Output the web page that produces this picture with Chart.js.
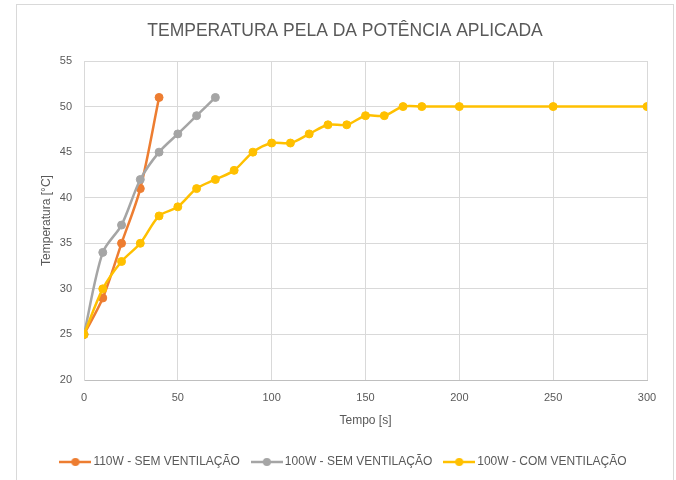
<!DOCTYPE html>
<html>
<head>
<meta charset="utf-8">
<script src="https://cdn.jsdelivr.net/npm/chart.js@4"></script>
<style>
  html, body { margin: 0; padding: 0; background: #ffffff; }
  #frame { position: absolute; left: 16px; top: 4px; width: 656px; height: 490px; border: 1px solid #d9d9d9; }
  #wrap { position: absolute; left: 0; top: 0; width: 676px; height: 480px; }
</style>
</head>
<body>
<div id="frame"></div>
<div id="wrap"><canvas id="chart" width="676" height="480"></canvas></div>
<script>
// values
const time110 = [0, 10, 20, 30, 40];
const temp110 = [25, 29, 35, 41, 51];

const time100 = [0, 10, 20, 30, 40, 50, 60, 70];
const temp100 = [25, 34, 37, 42, 45, 47, 49, 51];

const time100vent = [0, 10, 20, 30, 40, 50, 60, 70, 80, 90, 100, 110, 120, 130, 140, 150, 160, 170, 180, 200, 250, 300];
const temp100vent = [25, 30, 33, 35, 38, 39, 41, 42, 43, 45, 46, 46, 47, 48, 48, 49, 49, 50, 50, 50, 50, 50];

const seriesLabels = ['110W - SEM VENTILAÇÃO', '100W - SEM VENTILAÇÃO', '100W - COM VENTILAÇÃO'];
const seriesColours = ['#ED7D31', '#A5A5A5', '#FFC000'];

const xMin = 0, xMax = 300, xStep = 50;
const yMin = 20, yMax = 55, yStep = 5;

const textColour = '#595959';
const gridColour = '#d9d9d9';
const fontFamily = '"Liberation Sans", Arial, sans-serif';

function toPoints(xs, ys) {
  return xs.map((x, i) => ({ x: x, y: ys[i] }));
}

// legend marker: short line with a dot in the middle, like the spreadsheet legend
function legendMarker(colour) {
  const c = document.createElement('canvas');
  c.width = 32;
  c.height = 10;
  const g = c.getContext('2d');
  g.strokeStyle = colour;
  g.lineWidth = 2.5;
  g.beginPath();
  g.moveTo(0, 5);
  g.lineTo(32, 5);
  g.stroke();
  g.fillStyle = colour;
  g.beginPath();
  g.arc(16, 5, 4, 0, Math.PI * 2);
  g.fill();
  return c;
}

const allData = [toPoints(time110, temp110), toPoints(time100, temp100), toPoints(time100vent, temp100vent)];

// later series are drawn on top (order: lower = on top)
const drawOrder = [3, 2, 1];

const datasets = allData.map((pts, i) => ({
  label: seriesLabels[i],
  data: pts,
  order: drawOrder[i],
  borderColor: seriesColours[i],
  backgroundColor: seriesColours[i],
  borderWidth: 2.5,
  pointRadius: 4,
  pointBorderWidth: 1,
  pointHoverRadius: 5,
  tension: 0.3
}));

new Chart(document.getElementById('chart'), {
  type: 'line',
  data: { datasets: datasets },
  options: {
    responsive: false,
    animation: false,
    layout: { padding: { left: 43, right: 29, top: 0, bottom: 2 } },
    plugins: {
      title: {
        display: true,
        text: 'TEMPERATURA PELA DA POTÊNCIA APLICADA',
        color: textColour,
        font: { family: fontFamily, size: 17.5, weight: 'normal' },
        padding: { top: 21, bottom: 19 }
      },
      legend: {
        position: 'bottom',
        labels: {
          color: textColour,
          font: { family: fontFamily, size: 12 },
          usePointStyle: true,
          pointStyleWidth: 24, // marker image is 32 wide, centred on this box
          padding: 15,
          generateLabels: function(chart) {
            const items = Chart.defaults.plugins.legend.labels.generateLabels(chart);
            items.sort((a, b) => a.datasetIndex - b.datasetIndex);
            items.forEach(it => { it.pointStyle = legendMarker(seriesColours[it.datasetIndex]); });
            return items;
          }
        }
      },
      tooltip: { enabled: false }
    },
    scales: {
      x: {
        type: 'linear',
        min: xMin,
        max: xMax,
        ticks: { stepSize: xStep, color: textColour, font: { family: fontFamily, size: 11 }, padding: 11 },
        grid: { color: gridColour, drawTicks: false },
        border: { color: '#bfbfbf' },
        title: { display: true, text: 'Tempo [s]', color: textColour, font: { family: fontFamily, size: 12 }, padding: { top: 0, bottom: 13 } },
        afterFit: function(scale) { scale.height = 61; }
      },
      y: {
        min: yMin,
        max: yMax,
        ticks: { stepSize: yStep, color: textColour, font: { family: fontFamily, size: 11 }, padding: 12 },
        grid: { color: gridColour, drawTicks: false },
        border: { color: gridColour },
        title: { display: true, text: 'Temperatura [°C]', color: textColour, font: { family: fontFamily, size: 12 }, padding: { top: -4, bottom: 0 } },
        afterFit: function(scale) { scale.width = 41; }
      }
    }
  }
});
</script>
</body>
</html>
